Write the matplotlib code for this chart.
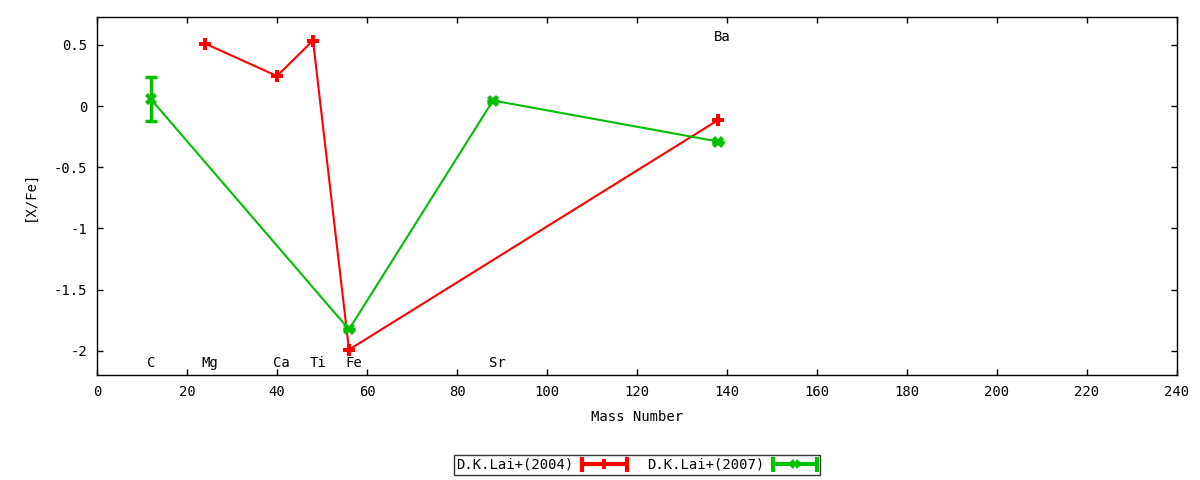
import matplotlib
matplotlib.use('Agg')
import matplotlib.pyplot as plt
from matplotlib.legend_handler import HandlerBase
from matplotlib.lines import Line2D

plt.rcParams['font.family'] = ['DejaVu Sans Mono']

# D.K.Lai+(2004)
lai04_mass = [24, 40, 48, 56, 138]
lai04_xfe = [0.51, 0.245, 0.535, -1.99, -0.115]

# D.K.Lai+(2007)
lai07_mass = [12, 56, 88, 138]
lai07_xfe = [0.055, -1.825, 0.045, -0.29]
lai07_err = [0.18, 0.0, 0.0, 0.0]

# element labels
elem_names = ['C', 'Mg', 'Ca', 'Ti', 'Fe', 'Sr', 'Ba']
elem_x = [12, 25, 41, 49, 57, 89, 139]
elem_y = [-2.1, -2.1, -2.1, -2.1, -2.1, -2.1, 0.56]

red = '#ff0000'
green = '#00c000'


class ErrLineHandler(HandlerBase):
    # gnuplot style key sample: line with caps at both ends, point in middle
    def __init__(self, color, marker, ms, mew):
        super().__init__()
        self.color = color
        self.marker = marker
        self.ms = ms
        self.mew = mew

    def create_artists(self, legend, orig_handle, xdescent, ydescent,
                       width, height, fontsize, trans):
        y = height / 2 - ydescent
        x0, x1 = -xdescent, width - xdescent
        cap = 4
        arts = [
            Line2D([x0, x1], [y, y], color=self.color, lw=3),
            Line2D([x0, x0], [y - cap, y + cap], color=self.color, lw=3),
            Line2D([x1, x1], [y - cap, y + cap], color=self.color, lw=3),
            Line2D([(x0 + x1) / 2], [y], color=self.color, marker=self.marker,
                   ms=self.ms, mew=self.mew, ls='none'),
        ]
        for a in arts:
            a.set_transform(trans)
        return arts


fig = plt.figure(figsize=(12, 4.8), dpi=100)
ax = fig.add_axes([97 / 1200, 1 - 375 / 480, 1080 / 1200, 358 / 480])

l1, = ax.plot(lai04_mass, lai04_xfe, color=red, lw=1.5, marker='P',
              ms=8, mec=red, mfc=red, mew=0)
ax.errorbar(lai07_mass, lai07_xfe, yerr=lai07_err, color=green, lw=1.5,
            elinewidth=2.5, capsize=4, capthick=2.5, fmt='none')
l2, = ax.plot(lai07_mass, lai07_xfe, color=green, lw=1.5, marker='X',
              ms=8, mec=green, mfc=green, mew=0)

for name, x, y in zip(elem_names, elem_x, elem_y):
    ax.text(x, y, name, ha='center', va='center', fontsize=10)

ax.set_xlim(0, 240)
ax.set_ylim(-2.197, 0.727)
ax.set_xticks(range(0, 241, 20))
ax.set_yticks([-2, -1.5, -1, -0.5, 0, 0.5])
ax.set_yticklabels(['-2', '-1.5', '-1', '-0.5', '0', '0.5'])
ax.tick_params(direction='in', length=4, width=1, top=True, right=True,
               labelsize=10, pad=7)
for s in ax.spines.values():
    s.set_linewidth(1)

ax.set_xlabel('Mass Number', fontsize=10, labelpad=8)
ax.set_ylabel('[X/Fe]', fontsize=10, labelpad=12)

leg = fig.legend([l1, l2], ['D.K.Lai+(2004)', 'D.K.Lai+(2007)'],
                 loc='center', bbox_to_anchor=(637 / 1200, 1 - 465 / 480),
                 ncol=2, fontsize=10, markerfirst=False, frameon=True,
                 fancybox=False, handlelength=3.2, handletextpad=0.6,
                 columnspacing=1.5, borderpad=0.2,
                 handler_map={l1: ErrLineHandler(red, 'P', 7, 0),
                              l2: ErrLineHandler(green, 'X', 7, 0)})
leg.get_frame().set_edgecolor('black')
leg.get_frame().set_linewidth(1)

fig.savefig('out.png', dpi=100)
